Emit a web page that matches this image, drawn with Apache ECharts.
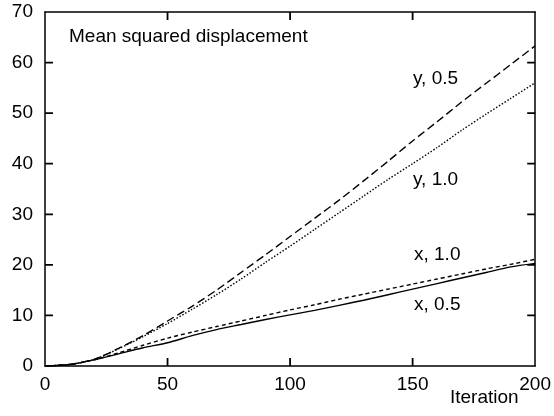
<!DOCTYPE html>
<html>
<head>
<meta charset="utf-8">
<script src="https://cdn.jsdelivr.net/npm/echarts@6/dist/echarts.min.js"></script>
<style>
html,body{margin:0;padding:0;background:#fff;}
#chart{width:554px;height:416px;}
</style>
</head>
<body>
<div id="chart"></div>
<script>
const iterations = [0,10,20,30,40,50,60,70,80,90,100,110,120,130,140,150,160,170,180,190,200];
const yHalf  = [0,0.3,1.3,3.5,6.0,8.9,11.8,15.0,18.5,22.0,25.6,29.2,32.8,36.6,40.5,44.5,48.3,52.2,55.9,59.6,63.3];
const yOne   = [0,0.3,1.3,3.4,5.8,8.4,11.2,14.1,17.2,20.5,23.7,27.0,30.3,33.6,36.9,40.0,43.2,46.6,49.8,52.9,56.0];
const xOne   = [0,0.3,1.2,2.6,4.1,5.5,6.7,7.8,8.9,10.0,11.1,12.1,13.2,14.2,15.2,16.2,17.2,18.2,19.2,20.1,21.1];
const xHalf  = [0,0.3,1.2,2.4,3.6,4.6,6.0,7.2,8.2,9.2,10.1,11.0,12.0,13.0,14.1,15.2,16.3,17.4,18.5,19.6,20.3];
const xTicks = [0,50,100,150,200];
const yTicks = [0,10,20,30,40,50,60,70];
const seriesNames = ['y, 0.5','y, 1.0','x, 1.0','x, 0.5'];
const title = 'Mean squared displacement';
const xName = 'Iteration';

const FONT = '"Liberation Sans", Arial, Helvetica, sans-serif';
const FS = 19;
const TICK = 8;
const pair = arr => iterations.map((x,i)=>[x,arr[i]]);
const xMin = xTicks[0], xMax = xTicks[xTicks.length-1];
const yMin = yTicks[0], yMax = yTicks[yTicks.length-1];
const innerX = xTicks.slice(1,-1), innerY = yTicks.slice(1,-1);

// plot area in pixels (grid), used to turn the tick length into axis units
const GRID = {left:45, right:16, top:12, bottom:50};
const plotW = 554 - GRID.left - GRID.right, plotH = 416 - GRID.top - GRID.bottom;
const tickDX = TICK * (xMax - xMin) / plotW;
const tickDY = TICK * (yMax - yMin) / plotH;

function mkAxis(pos, extra){
  return Object.assign({
    type:'value', position:pos, splitLine:{show:false},
    axisLine:{show:true, onZero:false, lineStyle:{color:'#000', width:1.5}},
    axisTick:{show:false},
    minorTick:{show:false}
  }, extra);
}
const txt = (x, y, s) => ({type:'text', left:x, top:y, silent:true,
  style:{text:s, fill:'#000', font:FS+'px '+FONT}});

// tick marks as short line-series segments, broken by '-' gaps
const tickSegs = [];
innerX.forEach(v => {
  tickSegs.push([v, yMin], [v, yMin + tickDY], ['-', '-']);
  tickSegs.push([v, yMax], [v, yMax - tickDY], ['-', '-']);
});
innerY.forEach(v => {
  tickSegs.push([xMin, v], [xMin + tickDX, v], ['-', '-']);
  tickSegs.push([xMax, v], [xMax - tickDX, v], ['-', '-']);
});

const chart = echarts.init(document.getElementById('chart'), null, {renderer:'canvas'});
chart.setOption({
  animation:false,
  backgroundColor:'#fff',
  grid:Object.assign({containLabel:false}, GRID),
  xAxis:[
    mkAxis('bottom', {min:xMin, max:xMax, interval:50,
      axisLabel:{show:true, color:'#000', fontFamily:FONT, fontSize:FS, margin:9}}),
    mkAxis('top', {min:xMin, max:xMax, interval:50, axisLabel:{show:false}})
  ],
  yAxis:[
    mkAxis('left', {min:yMin, max:yMax, interval:10,
      axisLabel:{show:true, color:'#000', fontFamily:FONT, fontSize:FS, margin:12}}),
    mkAxis('right', {min:yMin, max:yMax, interval:10, axisLabel:{show:false}})
  ],
  series:[
    {name:seriesNames[0], type:'line', data:pair(yHalf), showSymbol:false, smooth:0.25,
      lineStyle:{color:'#000', width:1.4, type:[8,4]}},
    {name:seriesNames[1], type:'line', data:pair(yOne), showSymbol:false, smooth:0.25,
      lineStyle:{color:'#000', width:1.4, type:[1.5,1.8]}},
    {name:seriesNames[2], type:'line', data:pair(xOne), showSymbol:false, smooth:0.25,
      lineStyle:{color:'#000', width:1.4, type:[4,3]}},
    {name:seriesNames[3], type:'line', data:pair(xHalf), showSymbol:false, smooth:0.25,
      lineStyle:{color:'#000', width:1.4, type:'solid'}},
    {name:'ticks', type:'line', data:tickSegs, showSymbol:false, connectNulls:false, silent:true,
      lineStyle:{color:'#000', width:1.8, type:'solid'}}
  ],
  graphic:[
    txt(69, 27, title),
    txt(413, 69, seriesNames[0]),
    txt(413, 170, seriesNames[1]),
    txt(414, 245, seriesNames[2]),
    txt(414, 295, seriesNames[3]),
    txt(450, 388, xName)
  ]
});
</script>
</body>
</html>
